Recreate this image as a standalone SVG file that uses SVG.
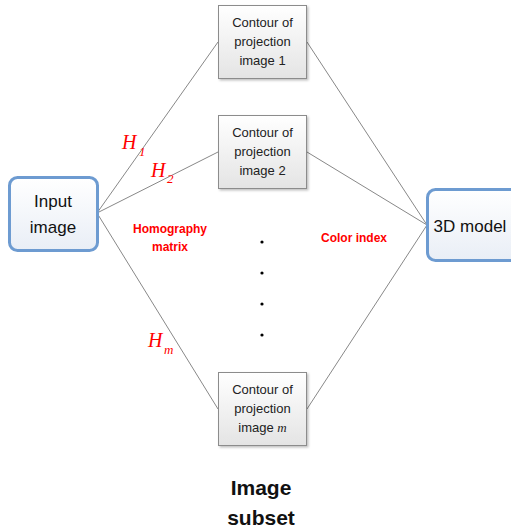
<svg xmlns="http://www.w3.org/2000/svg" width="511" height="531" viewBox="0 0 511 531">
<defs>
<linearGradient id="gGray" x1="0" y1="0" x2="0" y2="1">
<stop offset="0" stop-color="#ffffff"/>
<stop offset="1" stop-color="#e4e4e4"/>
</linearGradient>
<linearGradient id="gBlue" x1="0" y1="0" x2="0" y2="1">
<stop offset="0" stop-color="#ffffff"/>
<stop offset="1" stop-color="#e9eef6"/>
</linearGradient>
<filter id="sh" x="-10%" y="-10%" width="130%" height="130%">
<feDropShadow dx="1.5" dy="1.5" stdDeviation="1" flood-color="#000" flood-opacity="0.25"/>
</filter>
</defs>
<style>
.conn{stroke:#888;stroke-width:1;fill:none}
.cbox{fill:url(#gGray);stroke:#8c8c8c;stroke-width:1}
.bbox{fill:url(#gBlue);stroke:#6d9bd1;stroke-width:3}
.ct{font-family:"Liberation Sans",Arial,sans-serif;font-size:13px;fill:#222;text-anchor:middle}
.bt{font-family:"Liberation Sans",Arial,sans-serif;font-size:17px;fill:#111;text-anchor:middle}
.red{font-family:"Liberation Sans",Arial,sans-serif;font-size:12px;font-weight:bold;fill:#ff0000;text-anchor:middle}
.h{font-family:"Liberation Serif","Times New Roman",serif;font-style:italic;fill:#ff0000}
.big{font-family:"Liberation Sans",Arial,sans-serif;font-size:21px;font-weight:bold;fill:#111;text-anchor:middle}
</style>
<rect width="511" height="531" fill="#ffffff"/>
<g id="connectors">
<line class="conn" x1="97" y1="213" x2="218" y2="42"/>
<line class="conn" x1="97" y1="213" x2="218" y2="152"/>
<line class="conn" x1="97" y1="213" x2="218" y2="409"/>
<line class="conn" x1="307" y1="42" x2="427" y2="225"/>
<line class="conn" x1="307" y1="152" x2="427" y2="225"/>
<line class="conn" x1="307" y1="409" x2="427" y2="225"/>
</g>
<g id="input">
<rect class="bbox" x="9.5" y="177.5" width="88" height="73" rx="8"/>
<text class="bt" x="53" y="207">Input</text>
<text class="bt" x="53" y="233">image</text>
</g>
<g id="model">
<rect class="bbox" x="427.5" y="189.5" width="100" height="71" rx="8"/>
<text class="bt" x="470" y="232">3D model</text>
</g>
<g id="contour1">
<rect class="cbox" x="218.5" y="5.5" width="88" height="73" filter="url(#sh)"/>
<text class="ct" x="262.5" y="27">Contour of</text>
<text class="ct" x="262.5" y="46">projection</text>
<text class="ct" x="262.5" y="65">image 1</text>
</g>
<g id="contour2">
<rect class="cbox" x="218.5" y="115.5" width="88" height="73" filter="url(#sh)"/>
<text class="ct" x="262.5" y="137">Contour of</text>
<text class="ct" x="262.5" y="156">projection</text>
<text class="ct" x="262.5" y="175">image 2</text>
</g>
<g id="contourm">
<rect class="cbox" x="218.5" y="372.5" width="88" height="73" filter="url(#sh)"/>
<text class="ct" x="262.5" y="394">Contour of</text>
<text class="ct" x="262.5" y="413">projection</text>
<text class="ct" x="262.5" y="432">image <tspan font-family="Liberation Serif,serif" font-style="italic">m</tspan></text>
</g>
<g id="labels">
<text class="h" x="122" y="149" font-size="20">H</text>
<text class="h" x="139" y="156" font-size="13">1</text>
<text class="h" x="151" y="177" font-size="20">H</text>
<text class="h" x="167" y="183" font-size="13">2</text>
<text class="h" x="148" y="347" font-size="20">H</text>
<text class="h" x="164" y="354" font-size="13">m</text>
<text class="red" x="170" y="233">Homography</text>
<text class="red" x="170" y="251">matrix</text>
<text class="red" x="354" y="242">Color index</text>
</g>
<g id="dots" fill="#000">
<circle cx="262" cy="242" r="1.6"/>
<circle cx="262" cy="273" r="1.6"/>
<circle cx="262" cy="304" r="1.6"/>
<circle cx="262" cy="335" r="1.6"/>
</g>
<g id="caption">
<text class="big" x="261" y="495">Image</text>
<text class="big" x="261" y="525">subset</text>
</g>
</svg>
